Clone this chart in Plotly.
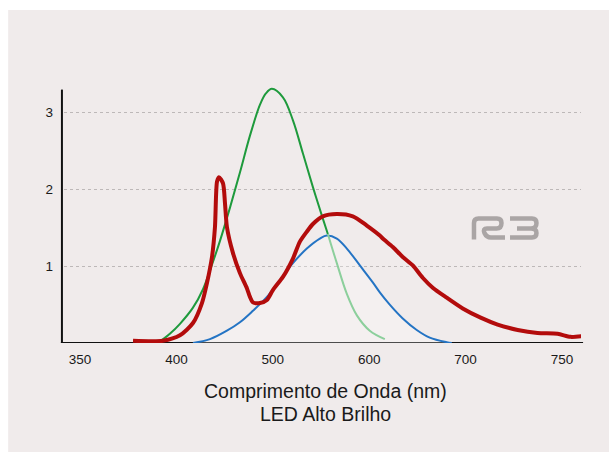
import numpy as np
import plotly.graph_objects as go

# Tick labels of the wavelength axis (evenly spaced on the chart)
tick_labels = ["350", "400", "500", "600", "700", "750"]
tick_wavelengths = [350, 400, 500, 600, 700, 750, 800]

# High-brightness LED spectrum (red, thick)
led_wl = [377.5, 393, 403.7, 417.2, 426.5, 431.7, 436.9, 440.0, 442.1, 444.1,
          448.3, 450.4, 452.4, 458.7, 465.9, 473.2, 476.3, 479.4, 486.6, 493.9, 500.1,
          510.5, 520.9, 528.1, 535.3, 541.6, 551.9, 566.4, 583.0, 597.5, 611.0, 614.1,
          624.5, 634.8, 645.2, 655.5, 665.9, 680.4, 697.0, 707.8, 716.6, 727.0, 737.3,
          747.7, 754.4, 760.6]
led_val = [0.03, 0.03, 0.10, 0.26, 0.52, 0.78, 1.12, 1.51, 2.10, 2.16,
           2.08, 1.82, 1.51, 1.17, 0.91, 0.71, 0.60, 0.53, 0.52, 0.56, 0.69,
           0.86, 1.10, 1.32, 1.45, 1.55, 1.65, 1.68, 1.65, 1.53, 1.40, 1.36,
           1.25, 1.12, 1.01, 0.85, 0.72, 0.59, 0.45, 0.33, 0.24, 0.17, 0.13,
           0.12, 0.08, 0.09]

# Green sensitivity curve
green_wl = [390.4, 396.6, 403.7, 417.2, 427.6, 436.9, 445.2, 455.5, 465.9, 476.3,
            486.6, 492.8, 499.0, 510.5, 520.9, 531.2, 541.6, 551.9, 557.1]
green_val = [0.0, 0.12, 0.25, 0.46, 0.70, 1.02, 1.33, 1.76, 2.22, 2.70,
             3.10, 3.25, 3.31, 3.20, 2.90, 2.47, 2.03, 1.62, 1.42]
# Lighter tail of the green curve
green_tail_wl = [557.1, 566.4, 576.8, 587.2, 600.6, 616.2]
green_tail_val = [1.42, 1.04, 0.64, 0.36, 0.16, 0.05]

# Blue sensitivity curve
blue_wl = [417.2, 434.8, 452.4, 465.9, 479.4, 493.9, 507.4, 520.9, 535.3, 548.8,
           556.1, 566.4, 576.8, 590.3, 603.7, 611.0, 621.3, 634.8, 649.3, 662.8,
           680.4, 685.6]
blue_val = [0.0, 0.05, 0.16, 0.27, 0.42, 0.60, 0.82, 1.04, 1.23, 1.36,
            1.40, 1.36, 1.23, 1.01, 0.79, 0.66, 0.50, 0.32, 0.17, 0.07,
            0.01, 0.0]


def pos(wl):
    """Place wavelengths on the evenly spaced tick scale."""
    return np.interp(wl, tick_wavelengths, np.arange(len(tick_wavelengths)))


# plot area in pixels (used for the logo drawn in paper coordinates)
PL, PR, PT, PB = 64, 581, 75, 343


def to_paper(px, py):
    return (px - PL) / (PR - PL), (PB - py) / (PB - PT)


def path(cmds):
    out = []
    for cmd in cmds:
        letter, pts = cmd[0], cmd[1:]
        coords = []
        for i in range(0, len(pts), 2):
            x, y = to_paper(pts[i], pts[i + 1])
            coords.append(f"{x:.4f},{y:.4f}")
        out.append(letter + " " + " ".join(coords))
    return " ".join(out)


logo_r = path([
    ("M", 474, 239.5), ("L", 474, 223), ("Q", 474, 218.5, 478.5, 218.5),
    ("L", 497, 218.5), ("Q", 501.5, 218.5, 501.5, 223),
    ("Q", 501.5, 228.5, 496.5, 228.5), ("L", 487, 228.5),
    ("Q", 482.5, 228.5, 484.5, 233), ("Q", 486.5, 237.5, 491, 237.5),
    ("L", 505, 237.5),
])
logo_3 = path([
    ("M", 510, 218.5), ("L", 532, 218.5), ("Q", 536.5, 218.5, 536.5, 223),
    ("Q", 536.5, 228.5, 531, 228.5), ("L", 517, 228.5),
    ("M", 531, 228.5), ("Q", 536.5, 228.5, 536.5, 233),
    ("Q", 536.5, 237.5, 532, 237.5), ("L", 510, 237.5),
])

fig = go.Figure()

fig.add_trace(go.Scatter(x=pos(blue_wl), y=blue_val, mode="lines",
                         line=dict(color="#2474c4", width=2, shape="spline"),
                         fill="tozeroy", fillcolor="rgba(255,255,255,0.25)"))
fig.add_trace(go.Scatter(x=pos(green_tail_wl), y=green_tail_val, mode="lines",
                         line=dict(color="#8ccf9c", width=2, shape="spline")))
fig.add_trace(go.Scatter(x=pos(green_wl), y=green_val, mode="lines",
                         line=dict(color="#1e9a3c", width=2, shape="spline")))
fig.add_trace(go.Scatter(x=pos(led_wl), y=led_val, mode="lines",
                         line=dict(color="#b30c0c", width=4, shape="spline",
                                   smoothing=0.7)))

shapes = [
    # light panel behind the chart
    dict(type="rect", xref="paper", yref="paper", x0=-0.108, x1=1.06,
         y0=-0.407, y1=1.2425, fillcolor="#f0ebeb", line=dict(width=0),
         layer="below"),
    # x axis line
    dict(type="line", xref="paper", yref="y", x0=-0.006, x1=1.004, y0=0, y1=0,
         line=dict(color="#111111", width=2), layer="below"),
    # y axis line
    dict(type="line", xref="paper", yref="y", x0=-0.004, x1=-0.004, y0=0, y1=3.3,
         line=dict(color="#111111", width=2), layer="below"),
    # R3 logo
    dict(type="path", xref="paper", yref="paper", path=logo_r,
         line=dict(color="#aaa5a5", width=4.5), layer="above"),
    dict(type="path", xref="paper", yref="paper", path=logo_3,
         line=dict(color="#aaa5a5", width=4.5), layer="above"),
]

fig.update_layout(
    width=609, height=459,
    margin=dict(l=PL, r=609 - PR, t=PT, b=459 - PB),
    paper_bgcolor="white",
    plot_bgcolor="#dedadb",
    showlegend=False,
    shapes=shapes,
    font=dict(family="Liberation Sans, Arial, sans-serif", color="#1a1a1a"),
    annotations=[
        dict(text="Comprimento de Onda (nm)", xref="paper", yref="paper",
             x=0.505, y=-0.179, showarrow=False, font=dict(size=19.5, color="#1a1a1a"),
             xanchor="center", yanchor="middle"),
        dict(text="LED Alto Brilho", xref="paper", yref="paper",
             x=0.505, y=-0.265, showarrow=False, font=dict(size=19.5, color="#1a1a1a"),
             xanchor="center", yanchor="middle"),
    ],
)

fig.update_xaxes(range=[-0.166, 5.197], tickmode="array",
                 tickvals=list(range(len(tick_labels))), ticktext=tick_labels,
                 showgrid=False, zeroline=False, showline=False,
                 ticks="", ticklabelstandoff=6, tickfont=dict(size=13.5),
                 layer="below traces")
fig.update_yaxes(range=[0, 3.49], tickmode="array", tickvals=[1, 2, 3],
                 showgrid=True, gridcolor="#bdb8b8", griddash="dot", gridwidth=1,
                 zeroline=False, showline=False, ticks="", ticklabelstandoff=10,
                 tickfont=dict(size=13.5), layer="below traces")

fig.write_html("out.html")
